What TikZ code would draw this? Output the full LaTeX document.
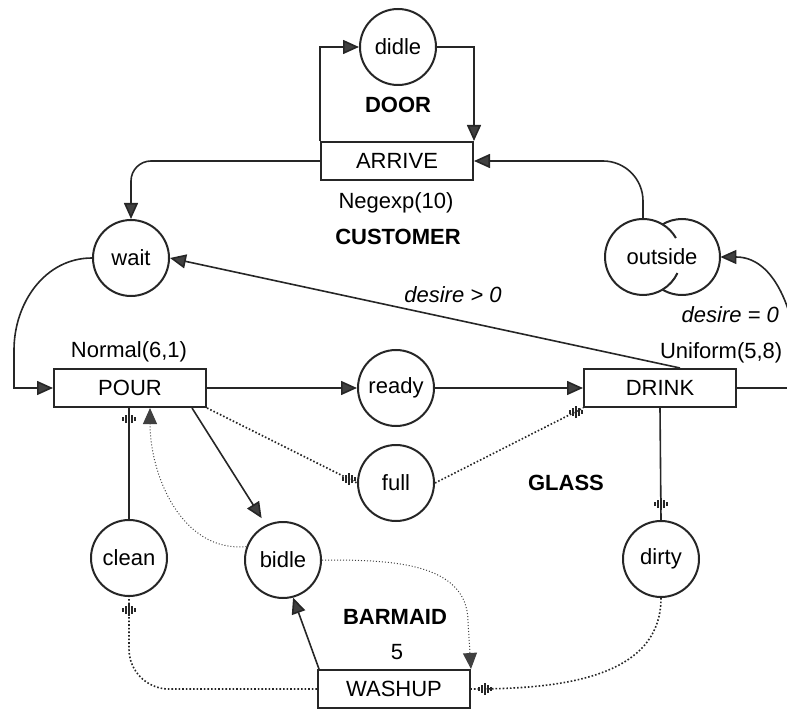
\documentclass[tikz,border=0pt]{standalone}
\usepackage{fontspec}
\setmainfont{Liberation Sans}
\usetikzlibrary{calc}
\usetikzlibrary{arrows.meta}
\tikzset{
  state/.style={circle, draw=black!85, line width=1pt, minimum size=38pt, inner sep=0pt},
  activity/.style={rectangle, draw=black!85, line width=1pt, minimum width=76pt, minimum height=19pt, inner sep=0pt},
  entity/.style={font=\fontsize{11}{13}\selectfont\bfseries},
  cond/.style={font=\fontsize{11}{13}\selectfont\itshape},
  tallymark/.pic={
    \draw[solid, line width=0.6pt, black!85]
      (-3pt,-1pt) -- (-3pt,1pt)
      (-1.5pt,-2pt) -- (-1.5pt,2pt)
      (0pt,-3pt) -- (0pt,3pt)
      (1.5pt,-2pt) -- (1.5pt,2pt)
      (3pt,-1pt) -- (3pt,1pt);
  },
  flow/.style={draw=black!85, line width=0.8pt, -{Triangle[length=8pt,width=7pt,fill=black!75]}},
  glass/.style={draw=black!85, line width=0.8pt, densely dotted},
  fine/.style={draw=black!75, line width=0.5pt, densely dotted, -{Triangle[length=8pt,width=7pt,fill=black!75]}},
}

\begin{document}
\begin{tikzpicture}[x=0.5pt, y=-0.5pt, every node/.style={font=\fontsize{11}{13}\selectfont}]
\useasboundingbox (0,0) rectangle (787,711);
\clip (0,0) rectangle (787,711);

\node[state](didle) at (398,47){didle};
\node[entity](door) at (398,105){DOOR};
\node[activity](ARRIVE) at (397,161){ARRIVE};
\node[](negexp) at (396,203){Negexp(10)};
\node[entity](customer) at (398,237){CUSTOMER};
\node[state](wait) at (131,258){wait};
\node[minimum width=58pt, minimum height=38pt, inner sep=0pt](outside) at (662,257){outside};
\node[](normal) at (129,352){Normal(6,1)};
\node[activity](POUR) at (130,388){POUR};
\node[state](ready) at (396,388){ready};
\node[anchor=west](uniform) at (653,353){Uniform(5,8)};
\node[activity](DRINK) at (660,388){DRINK};
\node[state](full) at (396,483){full};
\node[entity](glasslbl) at (566,483){GLASS};
\node[state](clean) at (129,558){clean};
\node[state](bidle) at (283,560){bidle};
\node[state](dirty) at (661,559){dirty};
\node[entity](barmaid) at (395,617){BARMAID};
\node[](five) at (397,652){5};
\node[activity](WASHUP) at (394,689){WASHUP};
\node[cond](gt) at (453,295){desire > 0};
\node[cond, anchor=east](eq) at (786,315){desire = 0};
\coordinate (otop) at (643,219);
\coordinate (oloop) at (800,388);
\coordinate (wbend) at (14,350);
\coordinate (bbend) at (468,622);

\draw[line width=1pt, black!85] ($(outside.center)+(-19,0)$) ++(59:19pt) arc[start angle=59, end angle=301, radius=19pt];
\draw[line width=1pt, black!85] ($(outside.center)+(20,0)$) ++(-121:19pt) arc[start angle=-121, end angle=121, radius=19pt];
\draw[line width=1pt, black!85] ($(outside.center)+(-19,0)$) ++(59:19pt) arc[start angle=59, end angle=30, radius=19pt];
\draw[line width=1pt, black!85] ($(outside.center)+(-19,0)$) ++(-59:19pt) arc[start angle=-59, end angle=-25, radius=19pt];

\draw[flow] (ARRIVE.north west) |- (didle.west);
\draw[flow] (didle.east) -| (ARRIVE.north east);
\draw[flow, rounded corners=10pt] (ARRIVE.west) -| (wait.north);
\draw[flow, rounded corners=20pt] (otop) |- (ARRIVE.east);
\draw[flow] (DRINK.east) -- (oloop) to[out=90,in=0] (outside.east);
\draw[flow] ([xshift=10pt]DRINK.north) -- (wait.east);
\draw[flow] (wait.west) to[out=180,in=90] (wbend) |- (POUR.west);
\path
(POUR) edge[flow] (ready)
(ready) edge[flow] (DRINK);
\draw[glass] (POUR.south east) -- (full.west) pic[shift={(-4pt,2pt)}]{tallymark};
\draw[glass] (full.east) -- (DRINK.south west) pic[shift={(-3.5pt,-2pt)}]{tallymark};
\draw[flow, shorten >=4pt] ([xshift=-7.5pt]POUR.south east) -- (bidle.116);
\draw[fine] (bidle.160) to[out=185,in=-90] ([xshift=10pt]POUR.south);
\draw[draw=black!85, line width=0.8pt] (clean.north) -- (clean.north |- POUR.south) pic[shift={(0,-5.5pt)}]{tallymark};
\draw[draw=black!85, line width=0.8pt] (DRINK.south) -- (dirty.north) pic[shift={(0,8pt)}]{tallymark};
\draw[glass, rounded corners=20pt] (WASHUP.west) -| (clean.south) pic[shift={(0,-6.5pt)}]{tallymark};
\draw[glass] (dirty.south) to[out=-90,in=0] (WASHUP.east) pic[shift={(7pt,0)}]{tallymark};
\draw[fine] (bidle.east) to[out=0,in=90] (bbend) -- (WASHUP.north east);
\draw[flow] ([xshift=1pt]WASHUP.north west) -- (bidle.-75);
\end{tikzpicture}
\end{document}
